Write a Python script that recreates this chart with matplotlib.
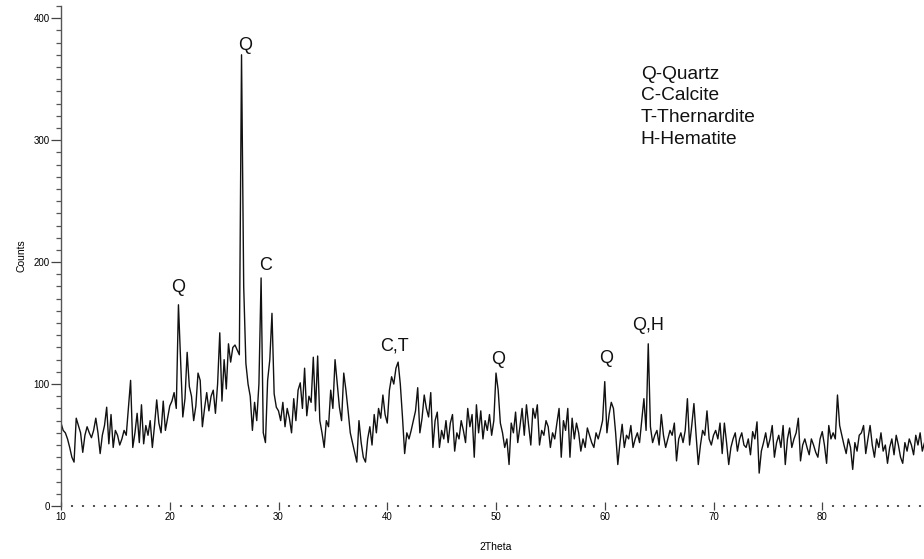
import numpy as np
import matplotlib.pyplot as plt
from matplotlib.ticker import MultipleLocator

plt.rcParams['font.family'] = ['Liberation Sans', 'DejaVu Sans']

# 2Theta grid, 0.2 deg steps from 10 to 90
two_theta = np.round(np.arange(10.0, 90.01, 0.2), 1)

# Counts, five values per degree (x.0 x.2 x.4 x.6 x.8)
counts = [
    68, 62, 60, 55, 48,   # 10
    40, 36, 72, 66, 60,   # 11
    44, 58, 65, 60, 56,   # 12
    62, 72, 60, 43, 58,   # 13
    66, 81, 51, 75, 48,   # 14
    62, 58, 50, 55, 62,   # 15
    58, 81, 103, 48, 60,  # 16
    76, 52, 83, 51, 66,   # 17
    58, 70, 48, 66, 87,   # 18
    68, 60, 86, 62, 72,   # 19
    82, 86, 93, 80, 165,  # 20
    120, 73, 88, 126, 98, # 21
    90, 70, 82, 109, 103, # 22
    65, 80, 93, 78, 90,   # 23
    95, 76, 100, 142, 86, # 24
    120, 96, 133, 118, 130,  # 25
    132, 128, 124, 370, 180, # 26
    117, 100, 90, 62, 85,    # 27
    70, 100, 187, 60, 52,    # 28
    103, 120, 158, 92, 81,   # 29
    78, 70, 85, 65, 80,   # 30
    72, 60, 88, 70, 95,   # 31
    101, 80, 113, 74, 90, # 32
    85, 122, 78, 123, 70, # 33
    60, 48, 70, 65, 95,   # 34
    80, 120, 100, 81, 70, # 35
    109, 95, 78, 60, 52,  # 36
    44, 36, 70, 52, 40,   # 37
    36, 55, 65, 50, 75,   # 38
    60, 80, 72, 91, 75,   # 39
    68, 95, 106, 100, 113,  # 40
    118, 100, 73, 43, 60,   # 41
    55, 62, 70, 78, 97,   # 42
    60, 72, 91, 80, 73,   # 43
    93, 48, 70, 77, 48,   # 44
    62, 55, 70, 52, 68,   # 45
    75, 45, 60, 55, 70,   # 46
    62, 52, 80, 65, 75,   # 47
    40, 83, 60, 78, 55,   # 48
    70, 62, 75, 58, 70,   # 49
    109, 95, 68, 60, 48,  # 50
    55, 34, 68, 60, 77,   # 51
    52, 65, 80, 58, 83,   # 52
    66, 50, 80, 72, 83,   # 53
    50, 62, 58, 70, 65,   # 54
    48, 60, 55, 68, 80,   # 55
    40, 70, 62, 80, 40,   # 56
    72, 55, 68, 60, 45,   # 57
    55, 48, 64, 58, 52,   # 58
    48, 60, 55, 62, 70,   # 59
    102, 60, 75, 85, 80,  # 60
    60, 34, 52, 67, 48,   # 61
    58, 55, 66, 48, 55,   # 62
    60, 52, 70, 88, 62,   # 63
    133, 65, 52, 58, 62,  # 64
    50, 75, 58, 48, 55,   # 65
    62, 58, 68, 37, 55,   # 66
    60, 52, 62, 88, 50,   # 67
    66, 84, 58, 34, 50,   # 68
    62, 58, 78, 55, 50,   # 69
    58, 62, 55, 68, 43,   # 70
    68, 52, 34, 48, 55,   # 71
    60, 45, 55, 60, 50,   # 72
    48, 55, 42, 61, 55,   # 73
    69, 27, 45, 52, 60,   # 74
    48, 55, 66, 40, 52,   # 75
    58, 48, 66, 34, 55,   # 76
    64, 48, 55, 60, 72,   # 77
    37, 50, 55, 48, 42,   # 78
    55, 50, 44, 40, 55,   # 79
    61, 50, 35, 66, 55,   # 80
    60, 55, 91, 66, 58,   # 81
    50, 43, 55, 48, 30,   # 82
    52, 45, 58, 60, 66,   # 83
    43, 55, 66, 50, 40,   # 84
    55, 48, 60, 45, 50,   # 85
    35, 48, 55, 42, 58,   # 86
    50, 40, 35, 52, 45,   # 87
    55, 50, 42, 58, 50,   # 88
    60, 45, 52, 40, 55,   # 89
    48,                   # 90
]

# peak labels: (text, 2Theta, counts where the label sits)
peak_labels = ['Q', 'Q', 'C', 'C,T', 'Q', 'Q', 'Q,H']
peak_x = [20.8, 26.9, 28.8, 40.7, 50.2, 60.1, 64.0]
peak_y = [179, 378, 197, 131, 120, 121, 148]

phases = ['Q-Quartz', 'C-Calcite', 'T-Thernardite', 'H-Hematite']

fig = plt.figure(figsize=(9.24, 5.59), dpi=100)
ax = fig.add_axes([61/924, 53/559, 870/924, 500/559])

ax.plot(two_theta, counts, color='#111111', linewidth=1.0)

ax.set_xlim(10, 90)
ax.set_ylim(0, 410)

for s in ['top', 'right', 'bottom']:
    ax.spines[s].set_visible(False)
ax.spines['left'].set_color('#555555')
ax.spines['left'].set_linewidth(1.0)

ax.xaxis.set_major_locator(MultipleLocator(10))
ax.xaxis.set_minor_locator(MultipleLocator(1))
ax.yaxis.set_major_locator(MultipleLocator(100))
ax.yaxis.set_minor_locator(MultipleLocator(10))
ax.tick_params(axis='x', which='major', direction='inout', length=6, width=0.9,
               color='#444444', labelsize=7, pad=1)
ax.tick_params(axis='x', which='minor', direction='inout', length=1.5, width=1.5,
               color='#555555')
ax.tick_params(axis='y', which='major', direction='out', length=7, width=0.9,
               color='#444444', labelsize=7, pad=1)
ax.tick_params(axis='y', which='minor', direction='out', length=3.5, width=0.9,
               color='#555555')

ax.set_xlabel('2Theta', fontsize=7.5, labelpad=15)
ax.set_ylabel('Counts', fontsize=7.5, labelpad=5)

for lab, px, py in zip(peak_labels, peak_x, peak_y):
    ax.text(px, py, lab, fontsize=13, ha='center', va='center', color='#111111')

ax.text(63.3, 361, '\n'.join(phases), fontsize=13.8, ha='left', va='top',
        linespacing=1.36, color='#111111')

fig.savefig('out.png', dpi=100)
